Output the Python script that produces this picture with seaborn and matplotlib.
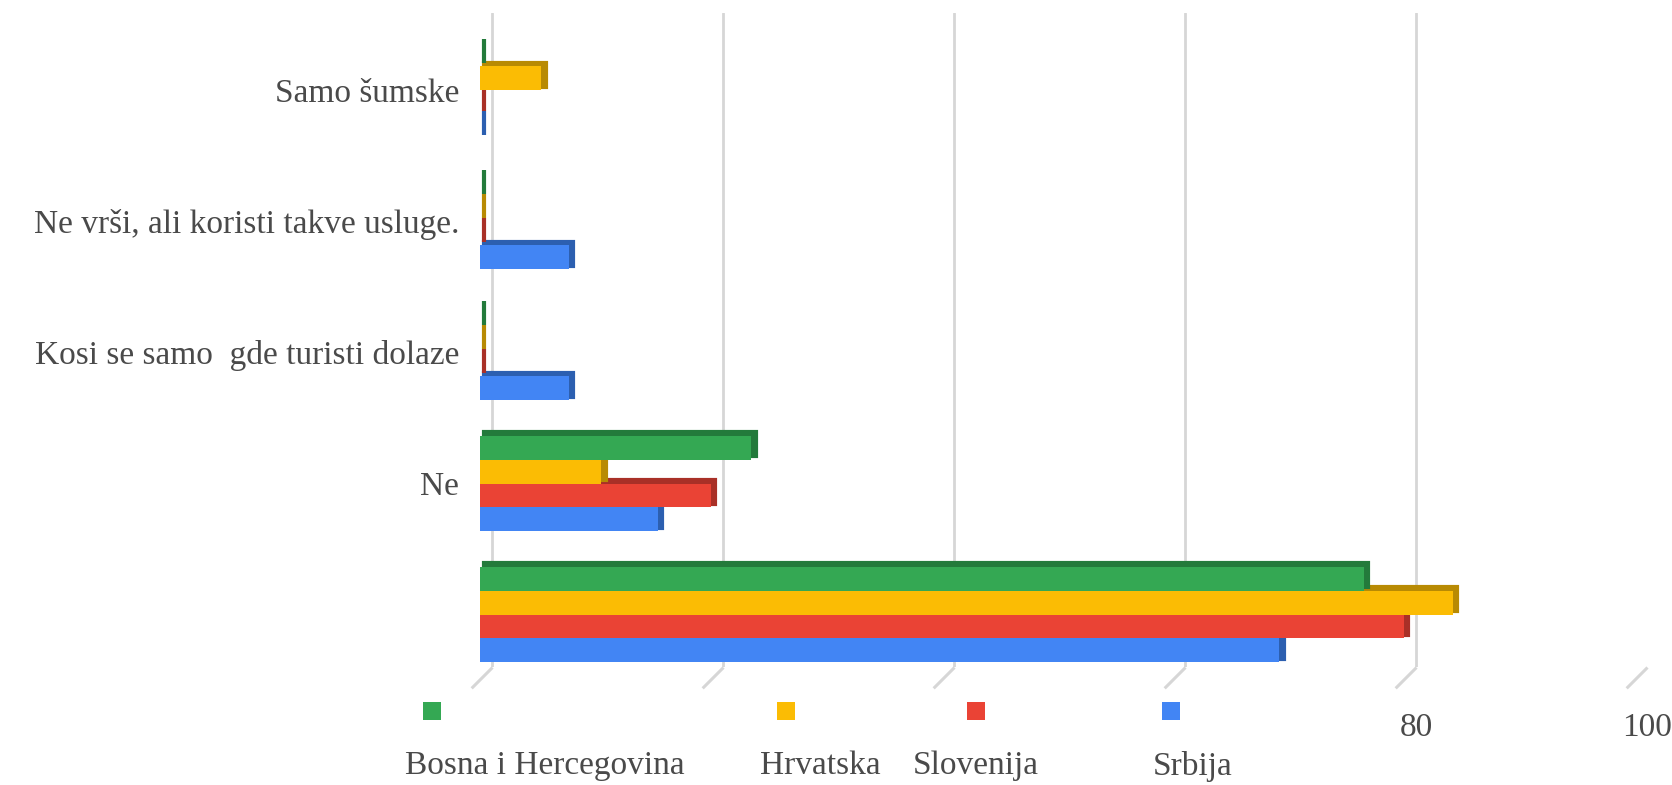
import numpy as np
import pandas as pd
import matplotlib
matplotlib.use("Agg")
import matplotlib.pyplot as plt
import matplotlib.transforms as mtransforms
import matplotlib.patheffects as pe
from matplotlib.path import Path
from matplotlib.patches import Rectangle
import seaborn as sns

# ---------------- data ----------------
categories = ["Samo šumske", "Ne vrši, ali koristi takve usluge.",
              "Kosi se samo  gde turisti dolaze", "Ne", "Da"]
ytick_labels = ["Samo šumske", "Ne vrši, ali koristi takve usluge.",
                "Kosi se samo  gde turisti dolaze", "Ne", ""]
countries = ["Bosna i Hercegovina", "Hrvatska", "Slovenija", "Srbija"]
bih = [0, 0, 0, 23.5, 76.5]
hrv = [5.3, 0, 0, 10.5, 84.2]
slo = [0, 0, 0, 20.0, 80.0]
srb = [0, 7.7, 7.7, 15.4, 69.2]
xticks = [0, 20, 40, 60, 80, 100]
xtick_labels = ["", "", "", "", "80", "100"]

colors = ["#34A853", "#FBBC04", "#EA4335", "#4285F4"]
dark = ["#237a3b", "#b88a03", "#a93027", "#2c5fb0"]

rows = []
for c, vals in zip(countries, [bih, hrv, slo, srb]):
    for cat, v in zip(categories, vals):
        rows.append({"cat": cat, "val": v, "country": c})
df = pd.DataFrame(rows)

# ---------------- figure ----------------
sns.set_style("white")
plt.rcParams["font.family"] = ["Liberation Serif", "DejaVu Serif"]
W, H = 1672, 785
TXT = "#4a4a4a"
fig = plt.figure(figsize=(W / 100, H / 100), dpi=100)
ax = fig.add_axes([480 / W, 1 - 667 / H, 1155 / W, (667 - 13) / H])

sns.barplot(data=df, y="cat", x="val", hue="country", order=categories,
            hue_order=countries, palette=colors, saturation=1, width=0.73,
            orient="h", linewidth=0, legend=False, ax=ax)

# pseudo-3D faces via path effects; upper series drawn on top
for i, cont in enumerate(ax.containers):
    for bar in cont:
        bar.set_zorder(10 - i)
        bar.set_path_effects([
            pe.PathPatchEffect(offset=(3.2, 2.6), facecolor=dark[i],
                               edgecolor=dark[i], linewidth=3),
            pe.Normal()])

ax.set_xlim(0, 100)
ax.set_ylim(4.4, -0.59)
ax.set_xticks(xticks)
ax.set_xticklabels(xtick_labels)
ax.set_yticks(range(len(categories)))
ax.set_yticklabels(ytick_labels)
ax.set_xlabel("")
ax.set_ylabel("")
for s in ax.spines.values():
    s.set_visible(False)

ax.tick_params(axis="y", length=0, pad=15, labelsize=24, labelcolor=TXT)
ax.tick_params(axis="x", length=0, pad=33, labelsize=24, labelcolor=TXT)

ax.xaxis.grid(True, color="#d6d6d6", linewidth=2)
ax.set_axisbelow(True)

back = mtransforms.ScaledTranslation(0.12, 0, fig.dpi_scale_trans)
for gl in ax.get_xgridlines():
    gl.set_transform(gl.get_transform() + back)
for lab in ax.get_xticklabels():
    lab.set_transform(lab.get_transform() + back)

# slanted floor ticks
slant = Path([(0, 0), (-1, -1)], [Path.MOVETO, Path.LINETO])
blend = mtransforms.blended_transform_factory(ax.transData, ax.transAxes) + back
ax.plot(xticks, [0] * len(xticks), transform=blend, marker=slant, ls="none",
        ms=30, mew=2.2, mec="#d6d6d6", clip_on=False)

# legend (squares above labels)
square_x = [432, 786, 976, 1171]
label_x = [545, 820, 976, 1193]
sq = 18
for c, sx in zip(colors, square_x):
    fig.add_artist(Rectangle(((sx - sq / 2) / W, 1 - (711 + sq / 2) / H),
                             sq / W, sq / H, transform=fig.transFigure,
                             facecolor=c, edgecolor="none"))
for name, lx in zip(countries, label_x):
    fig.text(lx / W, 1 - 766 / H, name, ha="center", va="center",
             fontsize=24, color=TXT)

fig.savefig("out.png", dpi=100)
